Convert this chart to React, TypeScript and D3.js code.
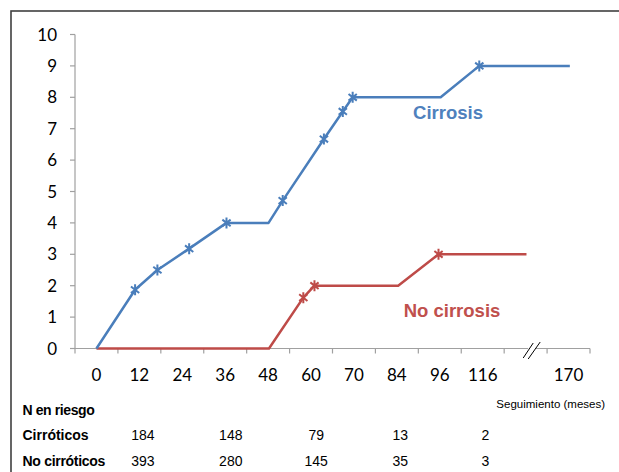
import React from "react";
import * as d3 from "d3";

const W = 619;
const H = 472;

// x categories (ticks labels at category centres); the blank one holds the axis break
const xCategories = ["0", "12", "24", "36", "48", "60", "70", "84", "96", "116", "", "170"];
const yTicks = [0, 1, 2, 3, 4, 5, 6, 7, 8, 9, 10];

// positions expressed in category units (0 = first category centre)
const cirrosisU = [0, 0.9, 1.42, 2.16, 3.03, 4.01, 4.34, 5.3, 5.74, 5.97, 8.02, 8.92, 11.03];
const cirrosisY = [0, 1.87, 2.5, 3.18, 4.0, 4.0, 4.71, 6.67, 7.55, 8.0, 8.0, 9.0, 9.0];
const cirrosisMarkers = [1, 2, 3, 4, 6, 7, 8, 9, 11];

const noCirrosisU = [0, 4.02, 4.82, 5.08, 7.03, 7.97, 10.02];
const noCirrosisY = [0, 0, 1.62, 2.0, 2.0, 3.0, 3.0];
const noCirrosisMarkers = [2, 3, 5];

const riskCols = [1.08, 3.13, 5.12, 7.08, 9.06];
const cirroticos = ["184", "148", "79", "13", "2"];
const noCirroticos = ["393", "280", "145", "35", "3"];
const breakU = 10.13;

const BLUE = "#4A7EBB";
const RED = "#BE4B48";
const AXIS = "#A0A0A0";

export default function App() {
  const x0 = 75;
  const x1 = 590;
  const catW = (x1 - x0) / xCategories.length;
  const x = d3.scaleLinear().domain([-0.5, xCategories.length - 0.5]).range([x0, x1]);
  const y = d3.scaleLinear().domain([0, 10]).range([348.5, 34.5]);

  const line = d3
    .line<[number, number]>()
    .x((d) => x(d[0]))
    .y((d) => y(d[1]));

  const cPts = cirrosisU.map((u, i) => [u, cirrosisY[i]] as [number, number]);
  const nPts = noCirrosisU.map((u, i) => [u, noCirrosisY[i]] as [number, number]);

  const s = 5.5;
  const star = `M0,${-s}L0,${s}M${-s * 0.75},${-s * 0.6}L${s * 0.75},${s * 0.6}M${-s * 0.75},${s * 0.6}L${s * 0.75},${-s * 0.6}`;

  const tickXs = d3.range(xCategories.length + 1).map((i) => x0 + i * catW);
  const bx = x(breakU);
  const by = y(0);

  const numFont = "Lato, 'Open Sans', sans-serif";
  const tabFont = "'Liberation Sans', Arial, sans-serif";

  return (
    <svg width={W} height={H} style={{ position: "absolute", left: 0, top: 0, background: "#fff" }}>
      <rect x={0} y={0} width={W} height={H} fill="#fff" />
      <rect x={11} y={11} width={W + 10} height={H + 10} fill="none" stroke="#404040" strokeWidth={1.6} />

      {/* y axis */}
      <line x1={x0} x2={x0} y1={y(10)} y2={y(0)} stroke={AXIS} strokeWidth={1.2} />
      {yTicks.map((t) => (
        <g key={t}>
          <line x1={x0 - 5} x2={x0} y1={y(t)} y2={y(t)} stroke={AXIS} strokeWidth={1.2} />
          <text x={57} y={y(t) + 6} textAnchor="end" fontFamily={numFont} fontSize={17} fill="#000">
            {t}
          </text>
        </g>
      ))}

      {/* x axis */}
      <line x1={x0} x2={x1} y1={y(0)} y2={y(0)} stroke={AXIS} strokeWidth={1.2} />
      {tickXs.map((tx, i) => (
        <line key={i} x1={tx} x2={tx} y1={y(0)} y2={y(0) + 5} stroke={AXIS} strokeWidth={1.2} />
      ))}
      {xCategories.map((c, i) => (
        <text key={i} x={x(i)} y={381} textAnchor="middle" fontFamily={numFont} fontSize={17} fill="#000">
          {c}
        </text>
      ))}

      {/* series */}
      <path d={line(nPts) || ""} fill="none" stroke={RED} strokeWidth={2.5} strokeLinejoin="round" />
      <path d={line(cPts) || ""} fill="none" stroke={BLUE} strokeWidth={2.5} strokeLinejoin="round" />
      {noCirrosisMarkers.map((i) => (
        <path key={"n" + i} d={star} transform={`translate(${x(noCirrosisU[i])},${y(noCirrosisY[i])})`} stroke={RED} strokeWidth={2} fill="none" />
      ))}
      {cirrosisMarkers.map((i) => (
        <path key={"c" + i} d={star} transform={`translate(${x(cirrosisU[i])},${y(cirrosisY[i])})`} stroke={BLUE} strokeWidth={2} fill="none" />
      ))}

      {/* axis break */}
      <polygon points={`${bx - 6},${by + 8} ${bx + 1},${by + 8} ${bx + 7},${by - 8} ${bx},${by - 8}`} fill="#fff" />
      <line x1={bx - 8} y1={by + 9.5} x2={bx + 2} y2={by - 5.5} stroke="#000" strokeWidth={1} />
      <line x1={bx - 3} y1={by + 10.5} x2={bx + 9} y2={by - 6.5} stroke="#000" strokeWidth={1} />

      {/* series labels */}
      <text x={448} y={118.5} textAnchor="middle" fontFamily={tabFont} fontWeight="bold" fontSize={18.5} fill="#4F81BD">
        Cirrosis
      </text>
      <text x={452} y={316.5} textAnchor="middle" fontFamily={tabFont} fontWeight="bold" fontSize={18.5} fill="#C0504D">
        No cirrosis
      </text>

      {/* at-risk table */}
      <text x={605} y={408} textAnchor="end" fontFamily={tabFont} fontSize={11.5} fill="#000">
        Seguimiento (meses)
      </text>
      <text x={22.5} y={415} fontFamily={tabFont} fontWeight="bold" fontSize={14} letterSpacing={-0.4} fill="#000">
        N en riesgo
      </text>
      <text x={22.5} y={440} fontFamily={tabFont} fontWeight="bold" fontSize={14} fill="#000">
        Cirróticos
      </text>
      <text x={22.5} y={465.5} fontFamily={tabFont} fontWeight="bold" fontSize={14} letterSpacing={-0.3} fill="#000">
        No cirróticos
      </text>
      {riskCols.map((u, i) => (
        <g key={i}>
          <text x={x(u)} y={440} textAnchor="middle" fontFamily={tabFont} fontSize={14} fill="#000">
            {cirroticos[i]}
          </text>
          <text x={x(u)} y={465.5} textAnchor="middle" fontFamily={tabFont} fontSize={14} fill="#000">
            {noCirroticos[i]}
          </text>
        </g>
      ))}
    </svg>
  );
}
